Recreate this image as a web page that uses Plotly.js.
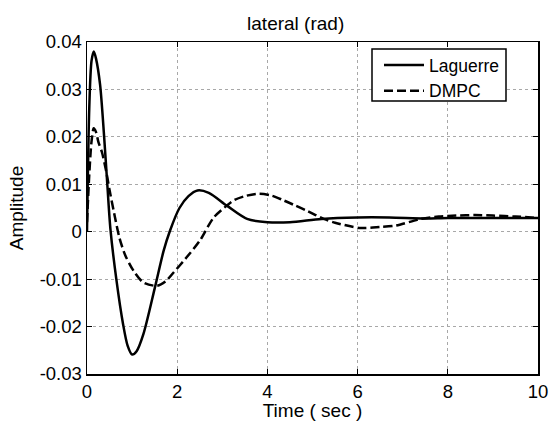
<!DOCTYPE html>
<html>
<head>
<meta charset="utf-8">
<script src="https://cdn.plot.ly/plotly-3.0.1.min.js"></script>
<style>html,body{margin:0;padding:0;background:#fff;}#chart{width:551px;height:421px;}</style>
</head>
<body>
<div id="chart"></div>
<script>
// Laguerre series (time in sec, amplitude in rad)
const laguerreT = [0, 0.05, 0.1, 0.15, 0.2, 0.29, 0.38, 0.45, 0.52, 0.65, 0.8, 0.9, 1.0, 1.1, 1.25, 1.5, 1.7, 1.84, 2.05, 2.25, 2.45, 2.7, 3.1, 3.55, 4.0, 4.5, 5.2, 6.0, 6.7, 7.5, 8.0, 9.0, 10.0];
const laguerreY = [0, 0.026, 0.036, 0.038, 0.0365, 0.031, 0.020, 0.010, 0.0005, -0.010, -0.0195, -0.0240, -0.0259, -0.0252, -0.0216, -0.012, -0.004, 0.0002, 0.005, 0.0075, 0.0087, 0.0082, 0.0055, 0.0027, 0.0020, 0.0020, 0.0027, 0.0030, 0.0030, 0.0028, 0.0029, 0.0029, 0.0029];

// DMPC series
const dmpcT = [0, 0.05, 0.1, 0.15, 0.2, 0.25, 0.33, 0.42, 0.5, 0.6, 0.72, 0.85, 1.03, 1.25, 1.55, 1.75, 1.92, 2.2, 2.5, 2.81, 3.1, 3.25, 3.5, 3.81, 4.1, 4.36, 4.6, 4.88, 5.25, 5.5, 6.05, 6.5, 6.85, 7.4, 7.8, 8.2, 8.6, 9.0, 9.5, 10.0];
const dmpcY = [0.002, 0.012, 0.019, 0.0218, 0.021, 0.019, 0.0168, 0.013, 0.0088, 0.0040, -0.0013, -0.005, -0.0082, -0.0107, -0.0114, -0.0104, -0.0086, -0.0055, -0.0019, 0.0030, 0.0055, 0.0066, 0.0075, 0.0080, 0.0076, 0.0066, 0.0056, 0.0044, 0.0027, 0.0019, 0.0008, 0.0010, 0.0013, 0.0027, 0.0032, 0.0034, 0.0035, 0.0034, 0.0032, 0.0029];

const seriesNames = ['Laguerre', 'DMPC'];
const xTickVals = [0, 2, 4, 6, 8, 10];
const xTickText = ['0', '2', '4', '6', '8', '10'];
const yTickVals = [-0.03, -0.02, -0.01, 0, 0.01, 0.02, 0.03, 0.04];
const yTickText = ['-0.03', '-0.02', '-0.01', '0', '0.01', '0.02', '0.03', '0.04'];

const FONT = 'Liberation Sans, Arial, sans-serif';

const traces = [
  {x: laguerreT, y: laguerreY, name: seriesNames[0], mode: 'lines',
   line: {color: '#000', width: 2.5, shape: 'spline', smoothing: 0.8}},
  {x: dmpcT, y: dmpcY, name: seriesNames[1], mode: 'lines',
   line: {color: '#000', width: 2.5, dash: '9px,4px', shape: 'spline', smoothing: 0.8}}
];

const axisCommon = {
  showline: true, linecolor: '#000', linewidth: 1.5, mirror: 'ticks',
  ticks: 'inside', ticklen: 5, tickcolor: '#000', tickwidth: 1,
  showgrid: true, gridcolor: '#a8a8a8', gridwidth: 1, griddash: 'dot',
  zeroline: false, tickfont: {family: FONT, size: 18.5, color: '#000'}
};

const layout = {
  width: 551, height: 421,
  margin: {l: 87, r: 13, t: 42, b: 47},
  paper_bgcolor: '#fff', plot_bgcolor: '#fff',
  font: {family: FONT, size: 19, color: '#000'},
  title: {text: 'lateral (rad)', font: {family: FONT, size: 19, color: '#000'},
          x: 0.5366, xref: 'container', xanchor: 'center', y: 1 - 23/421, yref: 'container', yanchor: 'middle'},
  xaxis: Object.assign({}, axisCommon, {
    range: [0, 10], tickmode: 'array', tickvals: xTickVals, ticktext: xTickText,
    title: {text: 'Time ( sec )', font: {family: FONT, size: 19, color: '#000'}, standoff: 7}
  }),
  yaxis: Object.assign({}, axisCommon, {
    range: [-0.03, 0.04], tickmode: 'array', tickvals: yTickVals, ticktext: yTickText,
    title: {text: 'Amplitude', font: {family: FONT, size: 19, color: '#000'}, standoff: 11}
  }),
  // legend frame (opaque box like the MATLAB legend)
  shapes: [{type: 'rect', xref: 'paper', yref: 'paper', layer: 'above',
            x0: (372 - 87) / 451, x1: (506 - 87) / 451,
            y0: (374 - 101) / 332, y1: (374 - 49) / 332,
            fillcolor: '#fff', line: {color: '#000', width: 1.5}}],
  legend: {x: (505 - 87) / 451, xanchor: 'right', y: (374 - 47) / 332, yanchor: 'top',
           bgcolor: 'rgba(0,0,0,0)', borderwidth: 0, itemwidth: 40,
           font: {family: FONT, size: 17.5, color: '#000'}, tracegroupgap: 0},
  showlegend: true
};

Plotly.newPlot('chart', traces, layout, {displayModeBar: false, staticPlot: true});
</script>
</body>
</html>
